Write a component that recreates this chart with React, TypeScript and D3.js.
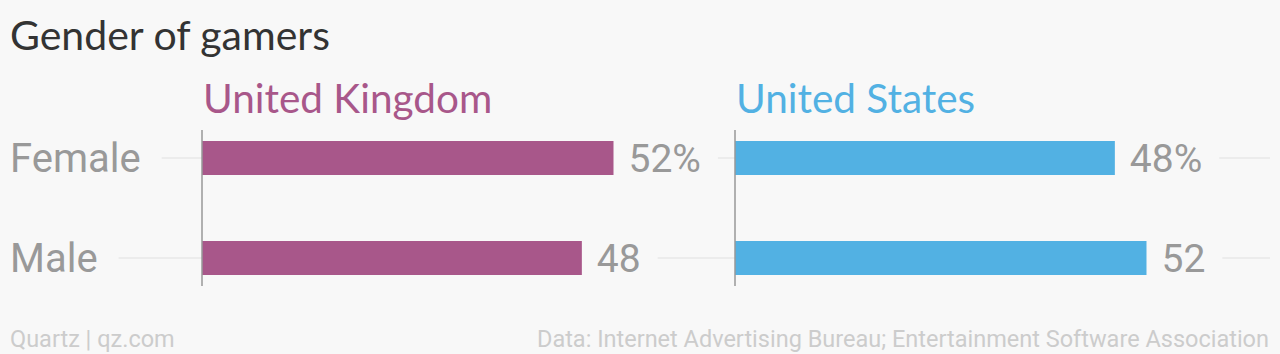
import { useEffect, useRef } from "react";
import * as d3 from "d3";

const W = 1280;
const H = 354;
const BG = "#f8f8f8";

// chart data
const categories = ["Female", "Male"];
const countries = ["United Kingdom", "United States"];
const countryColors = ["#a8578a", "#52b1e3"];
const ukValues = [52, 48];
const usValues = [48, 52];
const seriesValues = [ukValues, usValues];

const LABEL_FONT = "Roboto, 'Noto Sans', sans-serif";
const TITLE_FONT = "Lato, 'Open Sans', sans-serif";

const App = () => {
  const svgRef = useRef<SVGSVGElement>(null);

  useEffect(() => {
    document.body.style.margin = "0";
    const svg = d3.select(svgRef.current);
    svg.selectAll("*").remove();

    svg.append("rect").attr("width", W).attr("height", H).attr("fill", BG);

    // title
    svg
      .append("text")
      .attr("x", 10)
      .attr("y", 50)
      .attr("font-family", TITLE_FONT)
      .attr("font-size", 41)
      .attr("fill", "#333")
      .text("Gender of gamers");

    const y = d3.scalePoint<string>().domain(categories).range([158, 258]);
    const x = d3.scaleLinear().domain([0, 52]).range([0, 411.5]);
    const panelX = [202, 735];
    const barH = 34;

    // gridlines across the whole width
    const grid = svg.append("g");
    grid
      .selectAll("line")
      .data(categories)
      .join("line")
      .attr("x1", 10)
      .attr("x2", 1270)
      .attr("y1", (d) => y(d)!)
      .attr("y2", (d) => y(d)!)
      .attr("stroke", "#e8e8e8")
      .attr("stroke-width", 1.5);

    const masks = svg.append("g");
    const labels = svg.append("g");

    // mask gridline behind a text element
    const masked = (t: SVGTextElement, pad: number) => {
      const b = t.getBBox();
      masks
        .append("rect")
        .attr("x", b.x - pad)
        .attr("y", b.y)
        .attr("width", b.width + pad * 2)
        .attr("height", b.height)
        .attr("fill", BG);
    };

    // category labels
    labels
      .selectAll("text.cat")
      .data(categories)
      .join("text")
      .attr("class", "cat")
      .attr("x", 10)
      .attr("y", (d) => y(d)! + 14)
      .attr("font-family", LABEL_FONT)
      .attr("font-size", 40)
      .attr("fill", "#999")
      .text((d) => d)
      .each(function () {
        masked(this as SVGTextElement, 21);
      });

    countries.forEach((c, ci) => {
      const x0 = panelX[ci];
      const vals = seriesValues[ci];
      const g = svg.append("g");

      g.append("text")
        .attr("x", x0 + 1)
        .attr("y", 113)
        .attr("font-family", TITLE_FONT)
        .attr("font-size", 40.5)
        .attr("fill", countryColors[ci])
        .text(c);

      g.selectAll("rect")
        .data(vals)
        .join("rect")
        .attr("x", x0)
        .attr("y", (_, i) => y(categories[i])! - barH / 2)
        .attr("width", (d) => x(d))
        .attr("height", barH)
        .attr("fill", countryColors[ci]);

      g.append("line")
        .attr("x1", x0)
        .attr("x2", x0)
        .attr("y1", 130)
        .attr("y2", 286)
        .attr("stroke", "#999")
        .attr("stroke-width", 1.5);

      labels
        .selectAll(null)
        .data(vals)
        .enter()
        .append("text")
        .attr("x", (d) => x0 + x(d) + 15)
        .attr("y", (_, i) => y(categories[i])! + 14)
        .attr("font-family", LABEL_FONT)
        .attr("font-size", 39)
        .attr("fill", "#999")
        .text((d, i) => (i === 0 ? `${d}%` : `${d}`))
        .each(function () {
          masked(this as SVGTextElement, 17);
        });
    });

    // footer
    svg
      .append("text")
      .attr("x", 10)
      .attr("y", 347)
      .attr("font-family", LABEL_FONT)
      .attr("font-size", 23.5)
      .attr("fill", "#ccc")
      .text("Quartz | qz.com");
    svg
      .append("text")
      .attr("x", 1269)
      .attr("y", 347)
      .attr("text-anchor", "end")
      .attr("font-family", LABEL_FONT)
      .attr("font-size", 23.5)
      .attr("fill", "#ccc")
      .text("Data: Internet Advertising Bureau; Entertainment Software Association");
  }, []);

  return (
    <svg
      ref={svgRef}
      width={W}
      height={H}
      style={{ display: "block" }}
    />
  );
};

export default App;
